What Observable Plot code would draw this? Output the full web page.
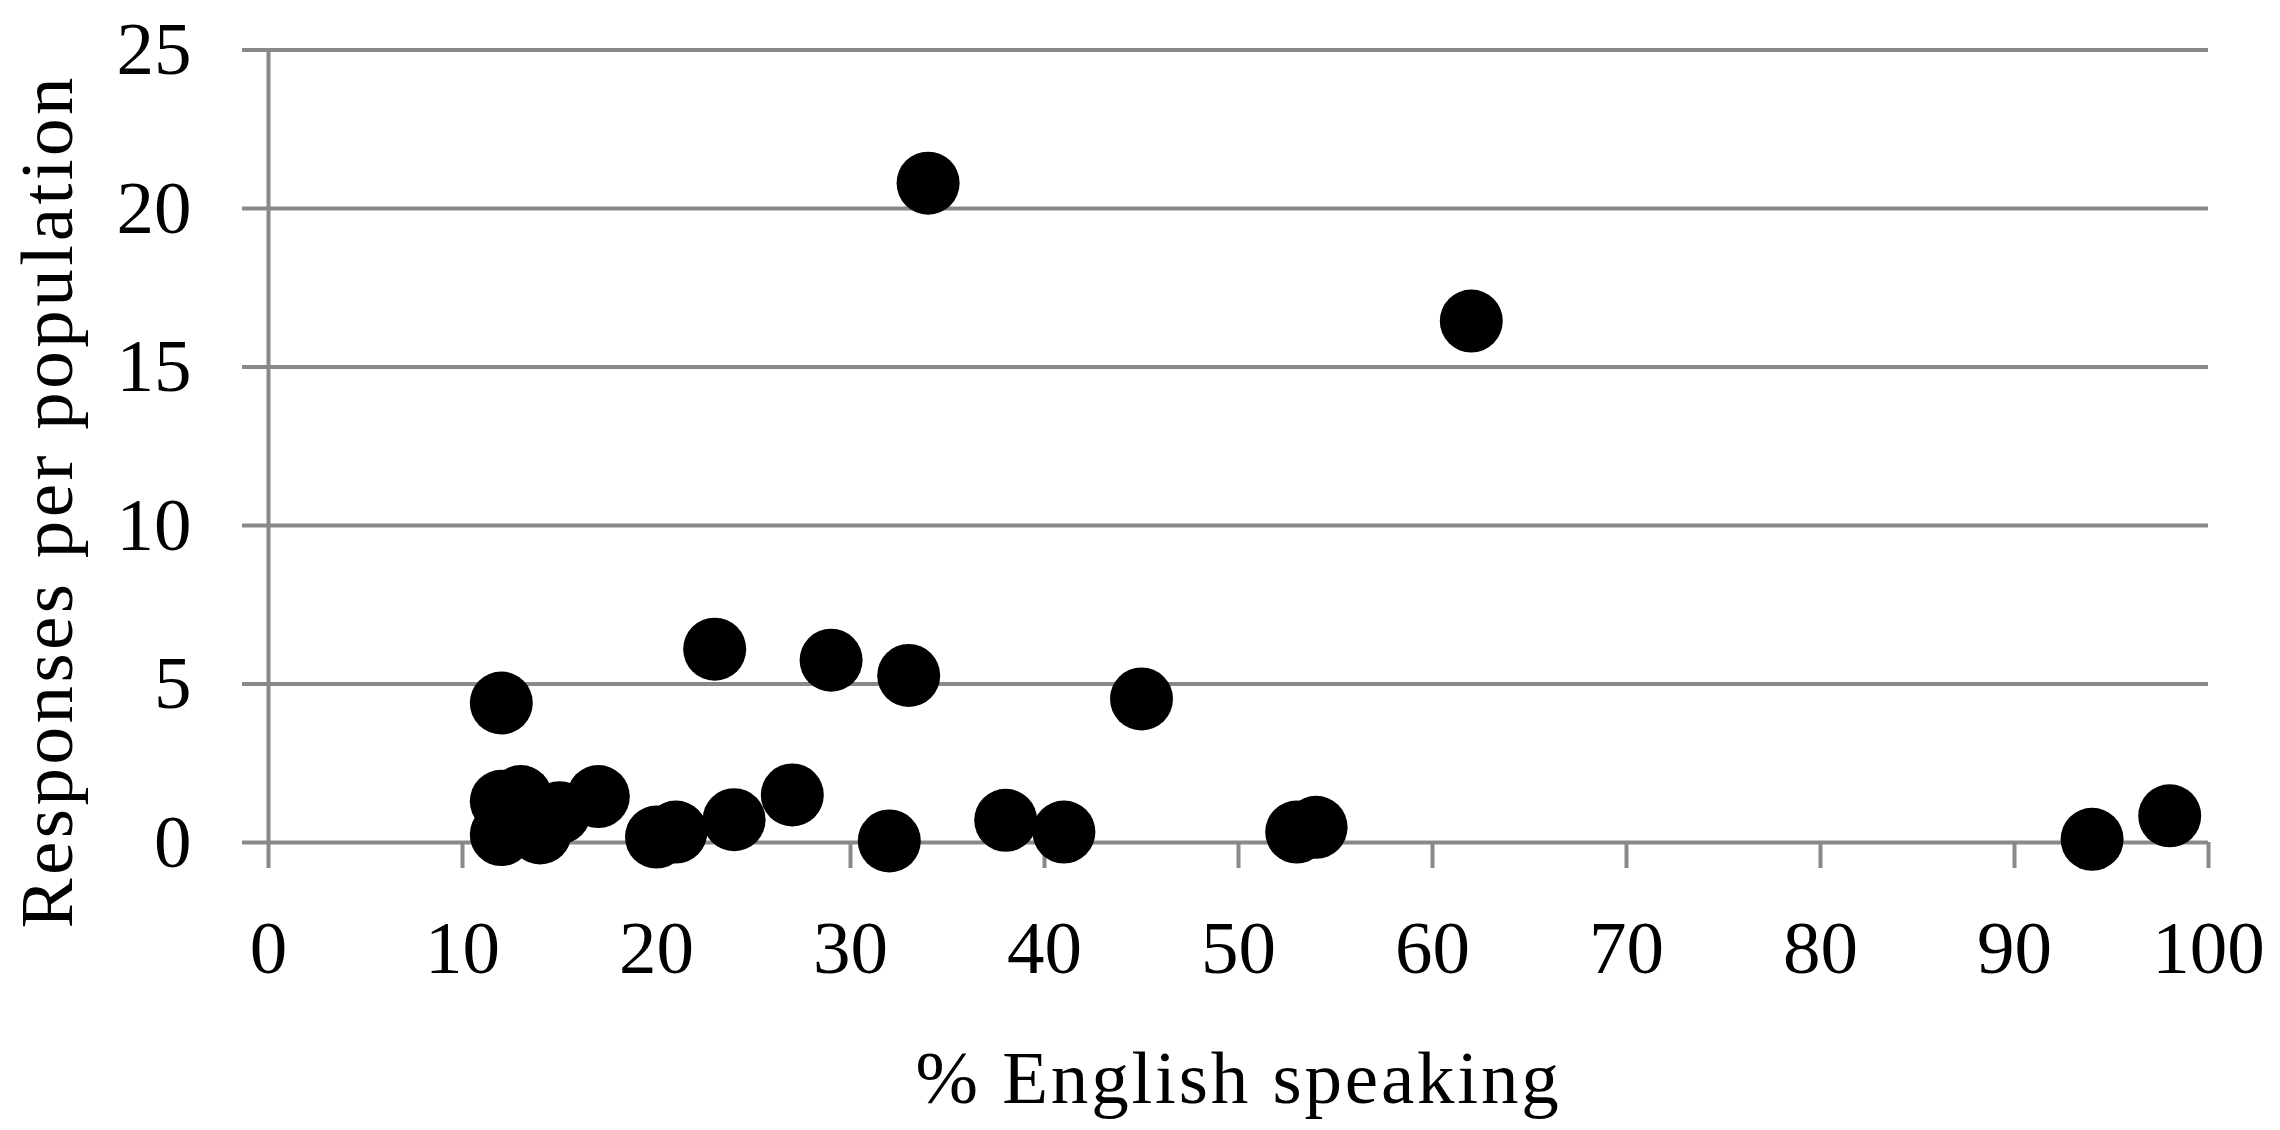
<!DOCTYPE html>
<html>
<head>
<meta charset="utf-8">
<script src="https://cdn.jsdelivr.net/npm/d3@7"></script>
<script src="https://cdn.jsdelivr.net/npm/@observablehq/plot@0.6"></script>
<style>
  html, body { margin: 0; padding: 0; background: #ffffff; }
  #chart svg { display: block; }
</style>
</head>
<body>
<div id="chart"></div>
<script>
// Data
const englishPct = [34, 62, 12, 23, 29, 33, 45, 94, 98, 32, 38, 41, 53, 54, 27, 24, 21, 20, 17, 15, 14, 13, 12, 12];
const responses  = [20.8, 16.45, 4.4, 6.1, 5.75, 5.27, 4.53, 0.1, 0.84, 0.05, 0.7, 0.33, 0.33, 0.48, 1.5, 0.72, 0.33, 0.17, 1.45, 0.94, 0.3, 1.45, 1.3, 0.25];
const xTicks = [0, 10, 20, 30, 40, 50, 60, 70, 80, 90, 100];
const yTicks = [0, 5, 10, 15, 20, 25];
const xTitle = "% English speaking";
const yTitle = "Responses per population";

const points = englishPct.map((x, i) => ({x, y: responses[i]}));
const gridColor = "#898989";

const chart = Plot.plot({
  width: 2280,
  height: 1130,
  marginLeft: 268,
  marginRight: 72,
  marginTop: 49.5,
  marginBottom: 288,
  style: {fontFamily: "'Liberation Serif', 'Times New Roman', serif", fontSize: "75px", background: "#ffffff", color: "#000000"},
  x: {domain: [0, 100], ticks: xTicks},
  y: {domain: [0, 25], ticks: yTicks},
  marks: [
    Plot.ruleY(yTicks, {stroke: gridColor, strokeWidth: 4}),
    Plot.ruleX([0], {stroke: gridColor, strokeWidth: 4}),
    Plot.axisY({ticks: yTicks, tickSize: 26, tickPadding: 51, stroke: gridColor, strokeWidth: 4, fill: "#000000", fontSize: 75, label: null}),
    Plot.axisX({ticks: xTicks, tickSize: 26, tickPadding: 51, stroke: gridColor, strokeWidth: 4, fill: "#000000", fontSize: 75, label: null}),
    Plot.dot(points, {x: "x", y: "y", r: 31.5, fill: "#000000", stroke: "none"}),
    Plot.text([xTitle], {frameAnchor: "bottom", textAnchor: "middle", lineAnchor: "bottom", dy: 260, fontSize: 75, fill: "#000000"}),
    Plot.text([yTitle], {frameAnchor: "left", textAnchor: "middle", rotate: -90, lineAnchor: "bottom", dx: -197, dy: 55, fontSize: 75, fill: "#000000"})
  ]
});
d3.select(chart).selectAll("text").filter(function() { return d3.select(this).text() === xTitle; }).style("letter-spacing", "2.8px");
d3.select(chart).selectAll("text").filter(function() { return d3.select(this).text() === yTitle; }).style("letter-spacing", "3.5px");
document.getElementById("chart").appendChild(chart);
</script>
</body>
</html>
